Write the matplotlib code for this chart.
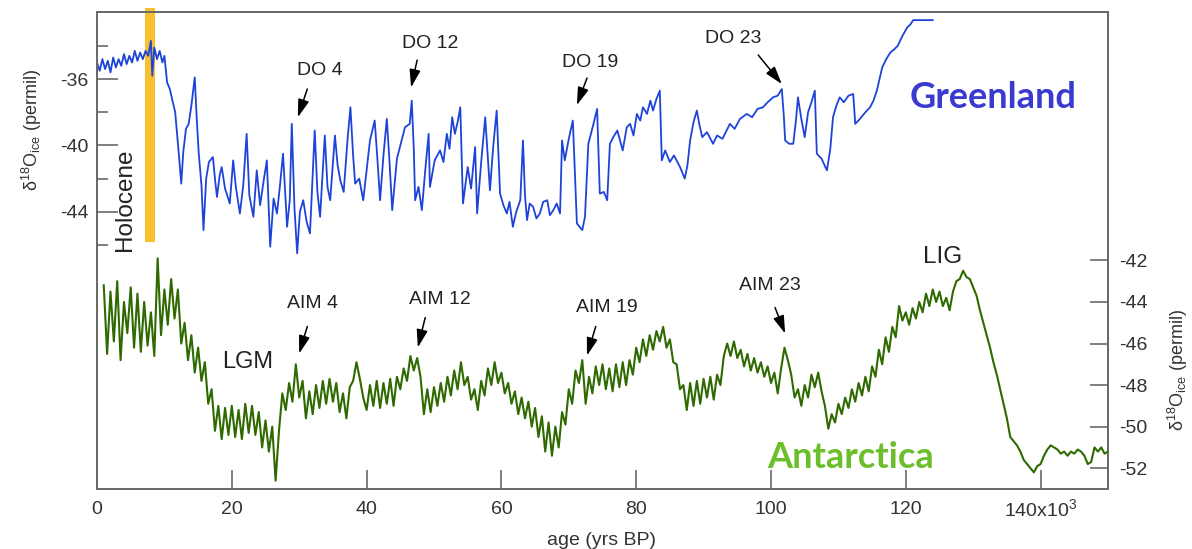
import matplotlib.pyplot as plt
from matplotlib.patches import Rectangle
from matplotlib.ticker import FixedLocator
import matplotlib.transforms as mtransforms

plt.rcParams['font.family'] = ['Liberation Sans', 'DejaVu Sans']
plt.rcParams['mathtext.fontset'] = 'custom'
plt.rcParams['mathtext.rm'] = 'Liberation Sans'
plt.rcParams['mathtext.it'] = 'Liberation Sans:italic'

# Greenland d18O (ka, permil)
green_age = [0.0, 0.4, 0.8, 1.2, 1.6, 2.0, 2.4, 2.8, 3.2, 3.6, 4.0, 4.4, 4.8, 5.2, 5.6, 6.0,
             6.4, 6.8, 7.2, 7.6, 8.0, 8.2, 8.5, 8.9, 9.3, 9.7, 10.0, 10.4, 10.8, 11.2, 11.6,
             11.9, 12.2, 12.5, 12.8, 13.2, 13.6, 14.0, 14.5, 14.8, 15.1, 15.5, 15.8, 16.2,
             16.6, 17.2, 17.5, 17.8, 18.2, 18.5, 19.0, 19.7, 20.2, 20.6, 21.2, 21.7, 22.2,
             22.6, 23.2, 23.7, 24.2, 24.7, 25.2, 25.7, 26.2, 26.7, 27.1, 27.6, 28.2, 28.6,
             28.9, 29.3, 29.7, 30.1, 30.6, 31.1, 31.6, 32.3, 32.7, 33.1, 33.8, 34.2, 34.6,
             35.3, 35.7, 36.1, 36.6, 37.2, 37.6, 38.0, 38.3, 38.9, 39.5, 40.0, 40.5, 41.2,
             41.6, 42.0, 42.5, 43.0, 43.4, 43.8, 44.5, 45.0, 45.7, 46.4, 46.7, 47.0, 47.2,
             47.7, 48.2, 48.7, 49.2, 49.4, 50.1, 50.9, 51.4, 51.9, 52.3, 52.7, 53.1, 53.5,
             53.9, 54.3, 55.0, 55.5, 56.1, 56.4, 57.0, 57.6, 58.3, 58.8, 59.3, 59.8, 60.3,
             60.8, 61.2, 61.7, 62.2, 62.8, 63.2, 63.5, 63.8, 64.2, 64.7, 65.2, 65.7, 66.2,
             66.8, 67.2, 67.7, 68.2, 68.7, 69.0, 69.4, 70.0, 70.6, 71.2, 72.0, 72.4, 72.9,
             73.6, 74.2, 74.6, 75.2, 75.7, 76.1, 76.6, 77.2, 78.0, 78.6, 79.1, 79.6, 80.1,
             80.6, 81.0, 81.6, 82.1, 82.5, 83.0, 83.5, 83.8, 84.3, 85.0, 85.6, 86.5, 87.2,
             87.6, 88.0, 88.5, 89.0, 89.4, 89.8, 90.5, 91.4, 92.0, 92.8, 93.9, 94.6, 95.4,
             96.4, 97.2, 98.0, 98.8, 99.5, 100.3, 101.0, 101.6, 101.9, 102.1, 102.7, 103.3,
             103.7, 104.0, 104.5, 105.0, 105.5, 106.0, 106.5, 106.8, 107.5, 108.3, 108.8,
             109.2, 109.7, 110.2, 110.8, 111.5, 112.2, 112.5, 113.2, 114.0, 114.7, 115.2,
             115.7, 116.1, 116.5, 117.1, 117.7, 118.3, 118.8, 119.5, 120.2, 120.7, 121.1, 124.0]
green_d18o = [-35.0, -35.5, -34.8, -35.4, -34.9, -35.6, -34.7, -35.3, -34.8, -35.2, -34.5, -35.1,
              -34.6, -35.0, -34.3, -34.9, -34.4, -34.8, -34.3, -34.6, -33.7, -35.8, -34.1, -34.8,
              -34.3, -35.0, -34.6, -36.2, -36.6, -37.3, -38.0, -39.4, -40.8, -42.3, -40.4, -39.0,
              -38.7, -37.6, -35.9, -38.4, -40.5, -42.4, -45.1, -42.0, -41.0, -40.7, -42.0, -43.1,
              -41.8, -41.3, -42.6, -43.5, -40.9, -42.5, -44.1, -42.4, -39.3, -43.0, -44.3, -41.5,
              -43.6, -42.2, -40.9, -46.1, -43.2, -44.1, -42.6, -40.5, -44.9, -43.3, -38.7, -43.8,
              -46.5, -44.0, -43.3, -44.6, -45.3, -39.1, -42.8, -44.3, -39.4, -42.5, -43.3, -39.4,
              -41.2, -42.1, -42.8, -39.5, -37.7, -40.6, -42.3, -42.0, -43.3, -41.5, -39.7, -38.5,
              -40.8, -43.3, -40.6, -38.4, -41.0, -43.9, -40.8, -40.0, -38.9, -38.7, -37.3, -40.2,
              -43.3, -42.5, -43.9, -41.5, -39.3, -42.5, -40.9, -40.3, -41.0, -39.3, -40.2, -38.3,
              -39.3, -38.6, -37.7, -43.5, -41.3, -42.6, -40.1, -44.1, -41.0, -38.3, -42.7, -40.0,
              -37.9, -42.9, -43.6, -44.1, -43.4, -44.9, -44.0, -43.3, -39.7, -43.0, -44.5, -43.5,
              -43.7, -44.4, -44.1, -43.4, -43.3, -44.2, -43.9, -43.5, -44.1, -39.7, -40.9, -39.6,
              -38.5, -44.7, -45.1, -44.3, -39.9, -38.8, -37.8, -42.9, -42.8, -43.3, -39.9, -39.5,
              -39.1, -40.3, -38.9, -38.7, -39.4, -38.1, -38.5, -37.7, -38.1, -37.3, -37.9, -37.2,
              -36.7, -40.9, -40.3, -41.0, -40.6, -41.3, -42.0, -41.2, -39.7, -38.6, -37.9, -38.8,
              -39.5, -39.2, -39.9, -39.4, -39.6, -38.7, -39.0, -38.4, -38.1, -38.3, -37.8, -37.7,
              -37.4, -37.1, -37.0, -36.6, -38.2, -39.7, -39.9, -39.9, -38.5, -37.1, -38.4, -39.5,
              -38.0, -37.4, -36.7, -40.5, -40.8, -41.5, -40.2, -38.3, -37.6, -37.1, -37.4, -37.0,
              -36.9, -38.7, -38.4, -38.0, -37.7, -37.3, -36.7, -36.0, -35.3, -34.8, -34.4, -34.2,
              -34.0, -33.4, -32.9, -32.7, -32.45, -32.45]

# Antarctica d18O (ka, permil)
ant_age = [1.0, 1.5, 2.0, 2.5, 3.0, 3.5, 4.0, 4.5, 5.0, 5.5,
           6.0, 6.5, 7.0, 7.5, 8.0, 8.5, 9.0, 9.5, 10.0, 10.5,
           11.0, 11.5, 12.0, 12.5, 13.0, 13.5, 14.0, 14.5, 15.0, 15.5,
           16.0, 16.5, 17.0, 17.5, 18.0, 18.5, 19.0, 19.5, 20.0, 20.5,
           21.0, 21.5, 22.0, 22.5, 23.0, 23.5, 24.0, 24.5, 25.0, 25.5,
           26.0, 26.5, 27.0, 27.5, 28.0, 28.5, 29.0, 29.5, 30.0, 30.5,
           31.0, 31.5, 32.0, 32.5, 33.0, 33.5, 34.0, 34.5, 35.0, 35.5,
           36.0, 36.5, 37.0, 37.5, 38.0, 38.5, 39.0, 39.5, 40.0, 40.5,
           41.0, 41.5, 42.0, 42.5, 43.0, 43.5, 44.0, 44.5, 45.0, 45.5,
           46.0, 46.5, 47.0, 47.5, 48.0, 48.5, 49.0, 49.5, 50.0, 50.5,
           51.0, 51.5, 52.0, 52.5, 53.0, 53.5, 54.0, 54.5, 55.0, 55.5,
           56.0, 56.5, 57.0, 57.5, 58.0, 58.5, 59.0, 59.5, 60.0, 60.5,
           61.0, 61.5, 62.0, 62.5, 63.0, 63.5, 64.0, 64.5, 65.0, 65.5,
           66.0, 66.5, 67.0, 67.5, 68.0, 68.5, 69.0, 69.5, 70.0, 70.5,
           71.0, 71.5, 72.0, 72.5, 73.0, 73.5, 74.0, 74.5, 75.0, 75.5,
           76.0, 76.5, 77.0, 77.5, 78.0, 78.5, 79.0, 79.5, 80.0, 80.5,
           81.0, 81.5, 82.0, 82.5, 83.0, 83.5, 84.0, 84.5, 85.0, 85.5,
           86.0, 86.5, 87.0, 87.5, 88.0, 88.5, 89.0, 89.5, 90.0, 90.5,
           91.0, 91.5, 92.0, 92.5, 93.0, 93.5, 94.0, 94.5, 95.0, 95.5,
           96.0, 96.5, 97.0, 97.5, 98.0, 98.5, 99.0, 99.5, 100.0, 100.5,
           101.0, 101.5, 102.0, 102.5, 103.0, 103.5, 104.0, 104.5, 105.0, 105.5,
           106.0, 106.5, 107.0, 107.5, 108.0, 108.5, 109.0, 109.5, 110.0, 110.5,
           111.0, 111.5, 112.0, 112.5, 113.0, 113.5, 114.0, 114.5, 115.0, 115.5,
           116.0, 116.5, 117.0, 117.5, 118.0, 118.5, 119.0, 119.5, 120.0, 120.5,
           121.0, 121.5, 122.0, 122.5, 123.0, 123.5, 124.0, 124.5, 125.0, 125.5,
           126.0, 126.5, 127.0, 127.5, 128.0, 128.5, 129.0, 129.5, 130.0, 130.5,
           131.0, 131.5, 132.0, 132.5, 133.0, 133.5, 134.0, 134.5, 135.0, 135.5,
           136.0, 136.5, 137.0, 137.5, 138.0, 138.5, 139.0, 139.5, 140.0, 140.5,
           141.0, 141.5, 142.0, 142.5, 143.0, 143.5, 144.0, 144.5, 145.0, 145.5,
           146.0, 146.5, 147.0, 147.5, 148.0, 148.5, 149.0, 149.5, 150.0]
ant_d18o = [-43.2, -46.5, -43.5, -45.9, -43.0, -46.8, -44.0, -45.5, -43.3, -46.2,
            -43.6, -46.4, -44.0, -46.1, -44.5, -46.6, -41.9, -45.6, -43.4, -45.1,
            -42.9, -44.8, -43.4, -46.0, -45.0, -46.8, -45.6, -47.4, -46.2, -47.8,
            -46.9, -48.9, -48.2, -50.2, -49.0, -50.6, -49.1, -50.4, -49.0, -50.5,
            -49.2, -50.6, -48.9, -50.3, -49.0, -50.4, -49.3, -51.0, -49.7, -51.2,
            -50.0, -52.6, -50.2, -48.4, -49.2, -47.9, -48.8, -47.0, -48.6, -47.8,
            -49.6, -48.3, -49.4, -48.0, -49.1, -47.8, -48.9, -47.7, -48.8, -47.9,
            -49.3, -48.4, -49.6, -48.1, -47.8, -46.9, -47.7, -48.6, -49.2, -48.0,
            -49.0, -47.8, -49.1, -47.9, -48.9, -47.7, -49.0, -47.6, -48.2, -47.2,
            -47.8, -46.6, -47.3, -46.7, -47.6, -49.4, -48.2, -49.3, -48.1, -49.0,
            -47.9, -48.8, -47.6, -48.5, -47.3, -48.2, -46.9, -48.0, -47.6, -48.7,
            -48.2, -49.2, -47.8, -48.5, -47.2, -48.0, -46.9, -47.9, -47.4, -48.4,
            -47.9, -48.9, -48.3, -49.4, -48.6, -49.6, -48.8, -50.0, -49.1, -50.5,
            -49.5, -51.2, -49.8, -51.4, -50.0, -51.0, -49.3, -49.9, -48.2, -48.9,
            -47.3, -47.9, -46.8, -48.9, -47.6, -48.4, -47.1, -48.0, -47.0, -48.2,
            -47.2, -48.3, -47.0, -48.1, -46.9, -48.0, -46.8, -47.5, -46.2, -46.9,
            -45.8, -46.6, -45.6, -46.3, -45.4, -45.9, -45.2, -46.2, -45.8, -46.9,
            -47.0, -48.2, -48.0, -49.2, -47.9, -49.0, -47.8, -48.9, -47.7, -48.6,
            -47.6, -48.7, -47.5, -48.0, -46.6, -46.0, -46.6, -45.9, -46.7, -46.3,
            -47.1, -46.5, -47.3, -46.7, -47.4, -46.9, -47.6, -47.1, -47.9, -47.4,
            -48.4, -47.2, -46.2, -46.8, -47.5, -48.6, -48.2, -49.0, -48.0, -48.6,
            -47.5, -48.1, -47.4, -48.3, -49.0, -50.1, -49.4, -49.8, -48.9, -49.4,
            -48.6, -49.1, -48.2, -48.8, -47.9, -48.5, -47.6, -48.3, -47.1, -47.6,
            -46.3, -47.0, -45.7, -46.4, -45.2, -45.7, -44.2, -44.9, -44.5, -45.1,
            -44.3, -44.8, -44.0, -44.5, -43.6, -44.2, -43.4, -44.0, -43.5, -44.2,
            -43.8, -44.4, -43.5, -43.0, -42.9, -42.5, -42.8, -42.9, -43.3, -43.7,
            -44.4, -45.0, -45.6, -46.2, -46.9, -47.5, -48.2, -48.9, -49.6, -50.5,
            -50.7, -50.9, -51.2, -51.6, -51.8, -52.0, -52.2, -51.9, -51.8, -51.4,
            -51.1, -50.9, -51.0, -51.1, -51.3, -51.2, -51.4, -51.2, -51.3, -51.1,
            -51.2, -51.4, -51.8, -51.7, -51.0, -51.2, -51.0, -51.3, -51.2]

x_ticks = [0, 20, 40, 60, 80, 100, 120, 140]
x_tick_labels = ['0', '20', '40', '60', '80', '100', '120', '140x10$^{3}$']
green_major = [-44, -40, -36]
green_minor = [-46, -42, -38, -34]
ant_ticks = [-52, -50, -48, -46, -44, -42]

# events: label, text position, arrow tail, arrow tip (age ka, permil)
do_events = [('DO 4', (33.1, -35.46), (31.2, -36.6), (29.8, -38.3)),
             ('DO 12', (49.4, -33.83), (47.5, -34.86), (46.6, -36.5)),
             ('DO 19', (73.1, -34.98), (72.7, -35.94), (71.2, -37.57)),
             ('DO 23', (94.4, -33.53), (98.1, -34.55), (101.6, -36.3))]
aim_events = [('AIM 4', (31.9, -44.07), (31.2, -45.18), (30.0, -46.48)),
              ('AIM 12', (50.9, -43.88), (48.7, -44.75), (47.6, -46.19)),
              ('AIM 19', (75.7, -44.27), (74.0, -45.18), (72.7, -46.58)),
              ('AIM 23', (99.9, -43.2), (100.6, -44.27), (102.1, -45.52))]

fig = plt.figure(figsize=(11.92, 5.49), dpi=100)
ax = fig.add_axes([97 / 1192, 60 / 549, 1011 / 1192, 477 / 549])
ax2 = ax.twinx()

spine_col = '#6a6a6a'
txt_col = '#333333'

ax.plot(green_age, green_d18o, color='#1e43d8', lw=1.3, zorder=3)
ax2.plot(ant_age, ant_d18o, color='#2e6a00', lw=1.5, zorder=3)

ax.set_xlim(0, 150)
ax.set_ylim(-60.7, -31.96)
ax2.set_ylim(-53.0, -30.05)

# Holocene bar
trans = mtransforms.blended_transform_factory(ax.transData, ax.transAxes)
ax.add_patch(Rectangle((7.1, 0.518), 1.5, 0.49, transform=trans, color='#f6c02e',
                       clip_on=False, zorder=2, lw=0))

for a in (ax, ax2):
    for s in a.spines.values():
        s.set_color(spine_col)
        s.set_linewidth(1.4)
ax.spines['left'].set_bounds(-60.7, -32.45)

ax.set_xticks(x_ticks)
ax.set_xticklabels(x_tick_labels)
ax.yaxis.set_major_locator(FixedLocator(green_major))
ax.yaxis.set_minor_locator(FixedLocator(green_minor))
ax.set_yticklabels([str(v) for v in green_major])
ax2.set_yticks(ant_ticks)
ax2.set_yticklabels([str(v) for v in ant_ticks])

ax.tick_params(axis='x', direction='in', length=14, width=1.2, color=spine_col,
               labelsize=14, labelcolor=txt_col, pad=9)
ax.tick_params(axis='y', which='major', direction='in', length=15, width=1.2,
               color=spine_col, labelsize=14, labelcolor=txt_col, pad=6)
ax.tick_params(axis='y', which='minor', direction='in', length=8, width=1.2, color=spine_col)
ax2.tick_params(axis='y', direction='in', length=13, width=1.2, color=spine_col,
                labelsize=14, labelcolor=txt_col, pad=8)
# keep the x10^3 label on the same baseline as the others
last = ax.get_xticklabels()[-1]
last.set_va('baseline')
last.set_transform(last.get_transform() + mtransforms.ScaledTranslation(0, -10.5 / 72, fig.dpi_scale_trans))

ylab = r'δ$^{18}$O$_{\mathrm{ice}}$ (permil)'
ax.text(-0.064, 0.753, ylab, transform=ax.transAxes, rotation=90, ha='center',
        va='center', fontsize=13, color=txt_col)
ax.text(1.069, 0.249, ylab, transform=ax.transAxes, rotation=90, ha='center',
        va='center', fontsize=13, color=txt_col)
ax.text(0.4995, -0.107, 'age (yrs BP)', transform=ax.transAxes, ha='center',
        va='center', fontsize=14, color=txt_col)

arrow_style = dict(arrowstyle='-|>,head_length=0.9,head_width=0.28', color='black',
                   lw=1.1, shrinkA=0, shrinkB=0, mutation_scale=12)
for a, events in ((ax, do_events), (ax2, aim_events)):
    for name, tpos, tail, tip in events:
        a.text(tpos[0], tpos[1], name, ha='center', va='center', fontsize=14,
               color='#222222', zorder=5)
        a.annotate('', xy=tip, xytext=tail, arrowprops=arrow_style, zorder=5)

ax2.text(22.4, -46.87, 'LGM', ha='center', va='center', fontsize=17, color='#222222')
ax2.text(125.5, -41.86, 'LIG', ha='center', va='center', fontsize=17.5, color='#222222')
ax.text(0.0277, 0.606, 'Holocene', transform=ax.transAxes, rotation=90, ha='center',
        va='center', fontsize=17.5, color='#222222')

ax.text(0.886, 0.820, 'Greenland', transform=ax.transAxes, ha='center', va='center',
        fontsize=26, fontweight='bold', family=['Lato', 'DejaVu Sans'], color='#3a3ad0')
ax.text(0.745, 0.065, 'Antarctica', transform=ax.transAxes, ha='center', va='center',
        fontsize=26, fontweight='bold', family=['Lato', 'DejaVu Sans'], color='#6cbf2a')

fig.savefig('out.png', dpi=100)
